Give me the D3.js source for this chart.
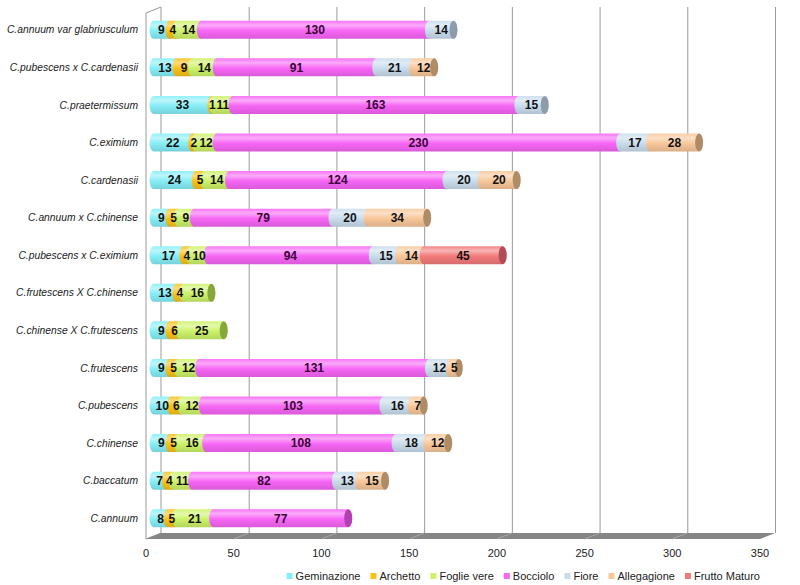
<!DOCTYPE html>
<html><head><meta charset="utf-8">
<script src="https://cdn.jsdelivr.net/npm/d3@7"></script>
<style>body{margin:0;background:#fff}svg{display:block}</style>
</head><body><svg id="c" width="800" height="585"></svg>
<script>
const categories = ["C.annuum var glabriusculum","C.pubescens x C.cardenasii","C.praetermissum","C.eximium","C.cardenasii","C.annuum x C.chinense","C.pubescens x C.eximium","C.frutescens X C.chinense","C.chinense X C.frutescens","C.frutescens","C.pubescens","C.chinense","C.baccatum","C.annuum"];
const geminazione = [9,13,33,22,24,9,17,13,9,9,10,9,7,8];
const archetto    = [4,9,1,2,5,5,4,4,6,5,6,5,4,5];
const foglieVere  = [14,14,11,12,14,9,10,16,25,12,12,16,11,21];
const bocciolo    = [130,91,163,230,124,79,94,0,0,131,103,108,82,77];
const fiore       = [14,21,15,17,20,20,15,0,0,12,16,18,13,0];
const allegagione = [0,12,0,28,20,34,14,0,0,5,7,12,15,0];
const fruttoMaturo= [0,0,0,0,0,0,45,0,0,0,0,0,0,0];
const seriesNames = ["Geminazione","Archetto","Foglie vere","Bocciolo","Fiore","Allegagione","Frutto Maturo"];
const seriesValues = [geminazione,archetto,foglieVere,bocciolo,fiore,allegagione,fruttoMaturo];
const seriesColors = ["#86eef7","#f7c21a","#cdf26a","#f766f5","#c9dcec","#f8c79a","#f27a7a"];
const capColors    = ["#5fb8c4","#c99000","#86a83a","#b43fb2","#8d9cab","#b08c66","#b24b55"];
const xTicks = [0,50,100,150,200,250,300,350];

const svg = d3.select("#c");
const x = d3.scaleLinear().domain([0,350]).range([146,760]);
const y = d3.scaleBand().domain(categories).range([13,539]);
const DX = 15, DY = -6;

const defs = svg.append("defs");
seriesColors.forEach((c,i)=>{
  const g = defs.append("linearGradient").attr("id","g"+i).attr("x1",0).attr("y1",0).attr("x2",0).attr("y2",1);
  const base = d3.color(c);
  const light = d3.interpolateRgb(c,"#ffffff")(0.45);
  const dark = d3.interpolateRgb(c,"#000000")(0.12);
  g.append("stop").attr("offset","0%").attr("stop-color",d3.interpolateRgb(c,"#ffffff")(0.1));
  g.append("stop").attr("offset","25%").attr("stop-color",light);
  g.append("stop").attr("offset","55%").attr("stop-color",base.formatHex());
  g.append("stop").attr("offset","100%").attr("stop-color",dark);
});

// left wall
const wall = svg.append("g");
wall.append("path")
  .attr("d",`M${x(0)},${y.range()[0]} L${x(0)+DX},${y.range()[0]+DY} L${x(0)+DX},${y.range()[1]+DY} L${x(0)},${y.range()[1]} Z`)
  .attr("fill","#fff").attr("stroke","#9a9a9a").attr("stroke-width",1);
// back gridlines
wall.selectAll("line.grid").data(xTicks.slice(1)).join("line")
  .attr("x1",d=>x(d)+DX+0.5).attr("x2",d=>x(d)+DX+0.5)
  .attr("y1",y.range()[0]+DY).attr("y2",y.range()[1]+DY)
  .attr("stroke","#9a9a9a").attr("stroke-width",1);

// floor
svg.append("path")
  .attr("d",`M${x(0)},${y.range()[1]} L${x(350)},${y.range()[1]} L${x(350)+DX},${y.range()[1]+DY} L${x(0)+DX},${y.range()[1]+DY} Z`)
  .attr("fill","#858585");
svg.selectAll("line.fl").data(xTicks.slice(1,-1)).join("line")
  .attr("x1",d=>x(d)).attr("y1",y.range()[1])
  .attr("x2",d=>x(d)+DX).attr("y2",y.range()[1]+DY)
  .attr("stroke","#a8a8a8").attr("stroke-width",1);

// tick labels
svg.selectAll("text.tick").data(xTicks).join("text")
  .attr("x",d=>x(d)).attr("y",557).attr("text-anchor","middle")
  .attr("font-family","Liberation Sans Narrow, Arial Narrow, Liberation Sans, Arial, sans-serif")
  .attr("font-size",11).attr("fill","#222").text(d=>d);

// category labels
svg.selectAll("text.cat").data(categories).join("text")
  .attr("x",138).attr("y",d=>y(d)+y.bandwidth()/2-2).attr("dy","0.35em")
  .attr("text-anchor","end").attr("font-style","italic")
  .attr("font-family","Liberation Sans, Arial, sans-serif")
  .attr("font-size",10.3).attr("fill","#222").text(d=>d);

// bars
const BH = 18, RX = 4;
const xm = v => x(v) + DX/2;
categories.forEach((cat,ci)=>{
  const cy = y(cat) + y.bandwidth()/2 + DY/2 + 1;
  const yt = cy - BH/2, yb = cy + BH/2;
  const g = svg.append("g");
  let acc = 0;
  const segs = [];
  seriesValues.forEach((arr,si)=>{
    const v = arr[ci];
    if (v > 0) { segs.push({si, v, a:acc, b:acc+v}); acc += v; }
  });
  segs.forEach(s=>{
    const x0 = xm(s.a), x1 = xm(s.b);
    g.append("path")
      .attr("d",`M${x0},${yt} L${x1},${yt} A${RX},${BH/2} 0 0 1 ${x1},${yb} L${x0},${yb} A${RX},${BH/2} 0 0 1 ${x0},${yt} Z`)
      .attr("fill",`url(#g${s.si})`);
  });
  const last = segs[segs.length-1];
  g.append("ellipse").attr("cx",xm(last.b)).attr("cy",cy).attr("rx",RX).attr("ry",BH/2)
    .attr("fill",capColors[last.si]);
  segs.forEach(s=>{
    g.append("text").attr("x",(xm(s.a)+xm(s.b))/2).attr("y",cy).attr("dy","0.36em")
      .attr("text-anchor","middle").attr("font-weight","bold")
      .attr("font-family","Liberation Sans Narrow, Arial Narrow, Liberation Sans, Arial, sans-serif")
      .attr("font-size",12).attr("fill", s.si===3 ? "#3a0038" : "#111").text(s.v);
  });
});

// right wall edge
svg.append("line").attr("x1",x(350)+DX+0.5).attr("x2",x(350)+DX+0.5)
  .attr("y1",y.range()[0]+DY).attr("y2",y.range()[1]+DY).attr("stroke","#9a9a9a");

// legend
const leg = svg.append("g");
let lx = 0;
seriesNames.forEach((n,i)=>{
  const it = leg.append("g");
  it.append("rect").attr("x",lx).attr("y",-3).attr("width",6).attr("height",6).attr("fill",seriesColors[i]);
  const t = it.append("text").attr("x",lx+9).attr("y",0).attr("dy","0.35em")
    .attr("font-family","Liberation Sans, Arial, sans-serif").attr("font-size",11).attr("fill","#222").text(n);
  lx += 9 + t.node().getComputedTextLength() + 10;
});
const lw = lx - 10;
leg.attr("transform",`translate(${760-lw},576)`);
</script></body></html>
